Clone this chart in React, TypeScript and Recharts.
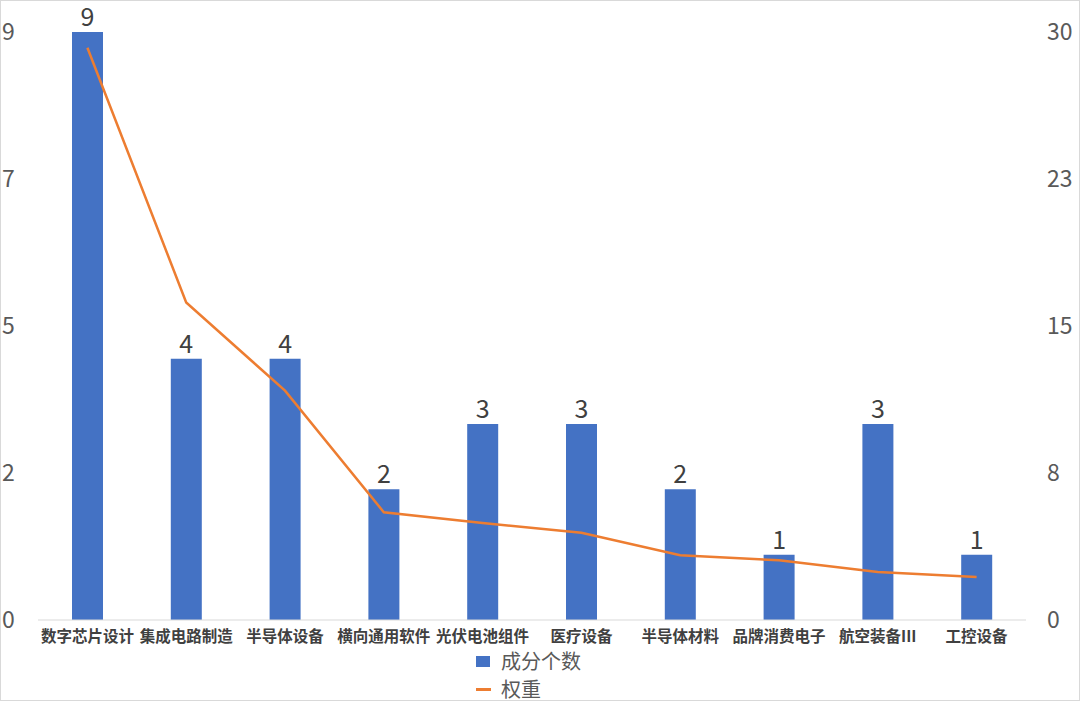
import { ComposedChart, Bar, Line, XAxis, YAxis, LabelList, Legend } from 'recharts'

const categories = ['数字芯片设计', '集成电路制造', '半导体设备', '横向通用软件', '光伏电池组件', '医疗设备', '半导体材料', '品牌消费电子', '航空装备III', '工控设备']
const counts = [9, 4, 4, 2, 3, 3, 2, 1, 3, 1]
const weights = [29.2, 16.2, 11.7, 5.5, 4.95, 4.45, 3.3, 3.05, 2.45, 2.2]
const leftTicks = [0, 2.25, 4.5, 6.75, 9]
const rightTicks = [0, 7.5, 15, 22.5, 30]

const data = categories.map((name, i) => ({ name, count: counts[i], weight: weights[i] }))

const BLUE = '#4472C4'
const ORANGE = '#ED7D31'
const FONT = '"Noto Sans CJK SC", "Noto Sans", sans-serif'

function LeftTick(props: any) {
  const { y, payload } = props
  return (
    <text x={2} y={y} dy={8} textAnchor="start" fontSize={23} fill="#595959" fontFamily={FONT}>
      {Math.round(payload.value)}
    </text>
  )
}

function RightTick(props: any) {
  const { y, payload } = props
  return (
    <text x={1047} y={y} dy={8} textAnchor="start" fontSize={23} fill="#595959" fontFamily={FONT}>
      {Math.round(payload.value)}
    </text>
  )
}

function CatTick(props: any) {
  const { x, y, payload } = props
  return (
    <text x={x} y={y} dy={22} textAnchor="middle" fontSize={15.5} fontWeight={600} fill="#404040" fontFamily={FONT}>
      {payload.value}
    </text>
  )
}

function LegendBox() {
  return (
    <div style={{ fontFamily: FONT, fontSize: 20, color: '#595959', lineHeight: '24px' }}>
      <div style={{ display: 'flex', alignItems: 'center', height: 24 }}>
        <span style={{ width: 14, height: 11, background: BLUE, display: 'inline-block', marginRight: 11 }} />
        成分个数
      </div>
      <div style={{ display: 'flex', alignItems: 'center', height: 24, marginTop: 4 }}>
        <span style={{ width: 15, height: 3, background: ORANGE, display: 'inline-block', marginRight: 10 }} />
        权重
      </div>
    </div>
  )
}

export default function App() {
  return (
    <div style={{ position: 'absolute', left: 0, top: 0, width: 1080, height: 701, background: '#fff', border: '1px solid #d9d9d9', boxSizing: 'border-box' }}>
      <div style={{ position: 'absolute', left: -1, top: -1 }}>
        <ComposedChart width={1080} height={701} data={data} margin={{ top: 32, right: 0, bottom: 0, left: 0 }}>
          <XAxis
            dataKey="name"
            height={81}
            tick={<CatTick />}
            tickLine={false}
            tickSize={0}
            tickMargin={0}
            interval={0}
            axisLine={{ stroke: '#d9d9d9', strokeWidth: 1 }}
          />
          <YAxis yAxisId="left" orientation="left" width={38} domain={[0, 9]} ticks={leftTicks} axisLine={false} tickLine={false} tick={<LeftTick />} />
          <YAxis yAxisId="right" orientation="right" width={54} domain={[0, 30]} ticks={rightTicks} axisLine={false} tickLine={false} tick={<RightTick />} />
          <Bar yAxisId="left" dataKey="count" fill={BLUE} barSize={31} isAnimationActive={false}>
            <LabelList dataKey="count" position="top" offset={6} fontSize={25} fill="#404040" fontFamily={FONT} />
          </Bar>
          <Line yAxisId="right" type="linear" dataKey="weight" stroke={ORANGE} strokeWidth={2.5} dot={false} isAnimationActive={false} />
          <Legend layout="vertical" align="center" verticalAlign="middle" wrapperStyle={{ left: 476, top: 649, width: 200 }} content={<LegendBox />} />
        </ComposedChart>
      </div>
    </div>
  )
}
